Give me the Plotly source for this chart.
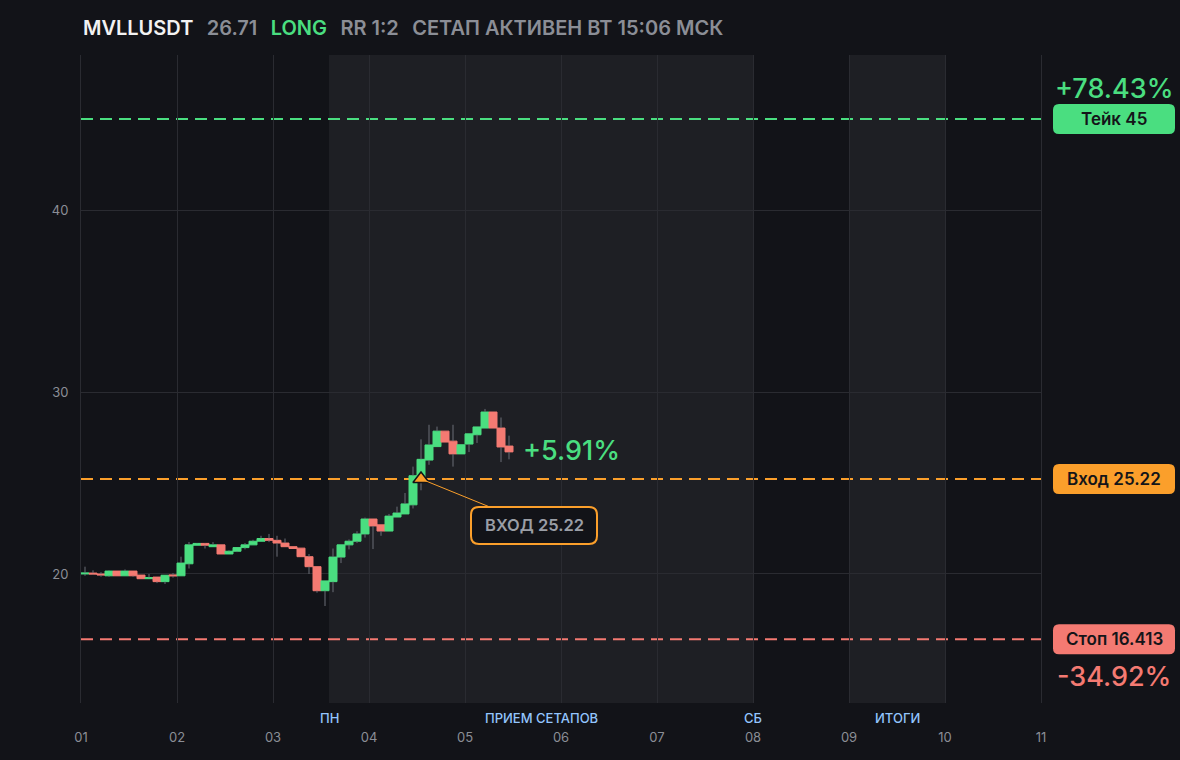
import pandas as pd
import plotly.graph_objects as go

BG = "#121318"
ZONE_BG = "#1e1f24"
GRID = "#2a2b31"
GREEN = "#4ade80"
RED = "#f47a72"
ORANGE = "#fb9f2b"
WICK = "#6b6e76"
MUTED = "#8b8e96"
LABEL_BLUE = "#93c5fd"
FONT = "Inter"

# 2h candles, first one opens on the 1st at 00:00
start = pd.Timestamp("2025-09-01 00:00")
opens = [20.00, 20.05, 20.00, 19.90, 20.16, 19.90, 20.16, 19.94, 19.74, 19.83,
         19.58, 19.95, 19.90, 20.56, 21.58, 21.68, 21.50, 21.60, 21.10, 21.25,
         21.45, 21.60, 21.80, 21.95, 21.85, 21.70, 21.50, 21.42, 20.95, 20.40,
         19.08, 19.58, 20.93, 21.60, 21.80, 22.20, 23.02, 22.70, 22.36, 23.13,
         23.30, 23.80, 25.22, 26.26, 27.00, 27.85, 27.30, 26.60, 27.14, 27.65,
         28.02, 28.90, 28.02, 27.03]
closes = [20.05, 20.00, 19.95, 20.16, 19.90, 20.16, 19.90, 19.74, 19.80, 19.58,
          19.93, 19.90, 20.60, 21.60, 21.68, 21.58, 21.60, 21.10, 21.25, 21.45,
          21.60, 21.80, 21.95, 21.85, 21.70, 21.50, 21.40, 20.95, 20.40, 19.08,
          19.62, 20.93, 21.60, 21.80, 22.20, 23.02, 22.64, 22.36, 23.18, 23.35,
          23.85, 25.40, 26.30, 27.09, 27.85, 27.25, 26.60, 27.10, 27.70, 28.08,
          28.90, 28.02, 26.98, 26.71]
highs = [20.40, 20.20, 20.10, 20.20, 20.16, 20.25, 20.16, 19.94, 20.00, 19.83,
         19.93, 20.05, 20.95, 21.76, 21.70, 21.70, 21.75, 21.60, 21.30, 21.45,
         21.70, 21.88, 22.10, 22.20, 22.10, 21.95, 21.50, 21.42, 21.10, 20.40,
         19.62, 21.40, 21.60, 21.90, 22.35, 23.10, 23.02, 22.70, 23.30, 23.70,
         24.45, 25.90, 27.40, 28.20, 28.10, 27.85, 28.20, 27.10, 27.70, 28.08,
         29.07, 28.90, 28.60, 27.60]
lows = [19.90, 19.97, 19.85, 19.85, 19.90, 19.90, 19.85, 19.74, 19.74, 19.50,
        19.45, 19.80, 19.90, 20.30, 21.58, 21.40, 21.50, 21.10, 21.10, 21.20,
        21.35, 21.60, 21.80, 21.75, 20.95, 21.50, 21.40, 20.95, 20.00, 18.97,
        18.24, 19.00, 20.60, 21.35, 21.70, 22.00, 21.37, 22.10, 22.36, 23.13,
        23.30, 23.60, 24.60, 26.00, 27.00, 27.25, 25.90, 26.60, 26.70, 27.20,
        28.02, 28.02, 26.15, 26.30]
times = [start + pd.Timedelta(hours=2 * i + 1) for i in range(len(opens))]

take = 45
entry = 25.22
stop = 16.413
last_price = 26.71
entry_candle = 42

zone_starts = ["2025-09-03 14:00", "2025-09-09 00:00"]
zone_ends = ["2025-09-08 00:00", "2025-09-10 00:00"]
session_names = ["ПН", "ПРИЕМ СЕТАПОВ", "СБ", "ИТОГИ"]
session_times = ["2025-09-03 14:00", "2025-09-05 19:00", "2025-09-08 00:00", "2025-09-09 12:00"]


def rounded(x0, x1, y0, y1, r):
    return (f"M{x0 + r},{y0} L{x1 - r},{y0} Q{x1},{y0} {x1},{y0 + r} "
            f"L{x1},{y1 - r} Q{x1},{y1} {x1 - r},{y1} L{x0 + r},{y1} "
            f"Q{x0},{y1} {x0},{y1 - r} L{x0},{y0 + r} Q{x0},{y0} {x0 + r},{y0} Z")


# wicks outside the bodies, drawn in grey
wx, wy = [], []
for t, o, c, h, l in zip(times, opens, closes, highs, lows):
    top, bot = max(o, c), min(o, c)
    if h > top:
        wx += [t, t, None]
        wy += [top, h, None]
    if l < bot:
        wx += [t, t, None]
        wy += [bot, l, None]

fig = go.Figure()
fig.add_trace(go.Candlestick(
    x=times, open=opens, close=closes,
    high=[max(o, c) for o, c in zip(opens, closes)],
    low=[min(o, c) for o, c in zip(opens, closes)],
    increasing=dict(line=dict(color=GREEN, width=1), fillcolor=GREEN),
    decreasing=dict(line=dict(color=RED, width=1), fillcolor=RED),
    whiskerwidth=0, showlegend=False, hoverinfo="skip",
))
fig.add_trace(go.Scatter(x=wx, y=wy, mode="lines", line=dict(color=WICK, width=1),
                         showlegend=False, hoverinfo="skip"))
fig.add_trace(go.Scatter(
    x=[times[entry_candle]], y=[entry], mode="markers",
    marker=dict(symbol="triangle-up", size=14, color=ORANGE, line=dict(color=BG, width=1.5)),
    showlegend=False, hoverinfo="skip",
))

shapes = []
for x0, x1 in zip(zone_starts, zone_ends):
    shapes.append(dict(type="rect", xref="x", yref="paper", x0=x0, x1=x1, y0=0, y1=1,
                       fillcolor=ZONE_BG, line_width=0, layer="below"))
for level, col in [(take, GREEN), (entry, ORANGE), (stop, RED)]:
    shapes.append(dict(type="line", xref="paper", yref="y", x0=0, x1=1, y0=level, y1=level,
                       line=dict(color=col, width=2, dash="12px,7px"), layer="between"))
    shapes.append(dict(type="path", xref="paper", yref="y", xsizemode="pixel", ysizemode="pixel",
                       xanchor=1, yanchor=level, path=rounded(12, 134, -15, 15, 6),
                       fillcolor=col, line_width=0))
# entry callout box
shapes.append(dict(type="path", xref="x", yref="y", xsizemode="pixel", ysizemode="pixel",
                   xanchor=times[entry_candle], yanchor=entry,
                   path=rounded(50, 176, -65, -28, 8),
                   fillcolor=BG, line=dict(color=ORANGE, width=2)))

gap = "\u00a0\u00a0\u2009"
annotations = [
    dict(xref="paper", yref="paper", x=0, y=1, xanchor="left", yanchor="middle", yshift=27,
         showarrow=False, font=dict(family=FONT, size=20, weight=600, color=MUTED),
         text=(f"<span style='color:#f2f2f2'>MVLLUSDT</span>{gap}"
               f"{last_price}{gap}<span style='color:{GREEN}'>LONG</span>"
               f"{gap}RR 1:2{gap}СЕТАП АКТИВЕН ВТ 15:06 МСК")),
    dict(xref="paper", yref="y", x=1, y=take, xanchor="center", xshift=73, yshift=31,
         showarrow=False, text=f"+{(take / entry - 1) * 100:.2f}%",
         font=dict(family=FONT, size=27, weight=500, color=GREEN)),
    dict(xref="paper", yref="y", x=1, y=stop, xanchor="center", xshift=73, yshift=-37,
         showarrow=False, text=f"{(stop / entry - 1) * 100:.2f}%",
         font=dict(family=FONT, size=27, weight=500, color=RED)),
    dict(xref="x", yref="y", x=times[-1], y=last_price, xanchor="left", xshift=12, yshift=1,
         showarrow=False, text=f"+{(last_price / entry - 1) * 100:.2f}%",
         font=dict(family=FONT, size=27, weight=500, color=GREEN)),
    dict(xref="x", yref="y", x=times[entry_candle], y=entry, ax=113, ay=46,
         text=f"ВХОД {entry}", showarrow=True, arrowhead=0, arrowwidth=1, arrowcolor=ORANGE,
         borderpad=8, font=dict(family=FONT, size=16.5, weight=600, color="#9a9ea6")),
]
for level, name in [(take, f"Тейк {take}"), (entry, f"Вход {entry}"), (stop, f"Стоп {stop}")]:
    annotations.append(dict(xref="paper", yref="y", x=1, y=level, xanchor="center", xshift=73,
                            showarrow=False, text=name,
                            font=dict(family=FONT, size=17, weight=600, color="#141519")))
for name, t in zip(session_names, session_times):
    annotations.append(dict(xref="x", yref="paper", x=t, y=0, yanchor="top", yshift=-5,
                            showarrow=False, text=name,
                            font=dict(family=FONT, size=13, weight=500, color=LABEL_BLUE)))

fig.update_layout(
    width=1180, height=760,
    margin=dict(l=81, r=139, t=55, b=57),
    paper_bgcolor=BG, plot_bgcolor=BG,
    showlegend=False, hovermode=False,
    boxgap=0, boxgroupgap=0,
    font=dict(family=FONT, size=13, color=MUTED),
    shapes=shapes, annotations=annotations,
)
fig.update_xaxes(
    type="date", range=[start, start + pd.Timedelta(days=10)],
    tick0=start, dtick=86400000, tickformat="%d",
    showgrid=True, gridcolor=GRID, gridwidth=1, zeroline=False, showline=False,
    ticks="", ticklabelstandoff=25, rangeslider_visible=False,
    tickfont=dict(family=FONT, size=13, color=MUTED),
)
fig.update_yaxes(
    range=[12.91, 48.52], tick0=0, dtick=10,
    showgrid=True, gridcolor=GRID, gridwidth=1, zeroline=False,
    showline=True, mirror=True, linecolor=GRID, linewidth=1,
    ticks="", ticklabelstandoff=9,
    tickfont=dict(family=FONT, size=13, color=MUTED),
)

fig.write_html("out.html", config={"displayModeBar": False},
               post_script="document.body.style.margin='0';")
